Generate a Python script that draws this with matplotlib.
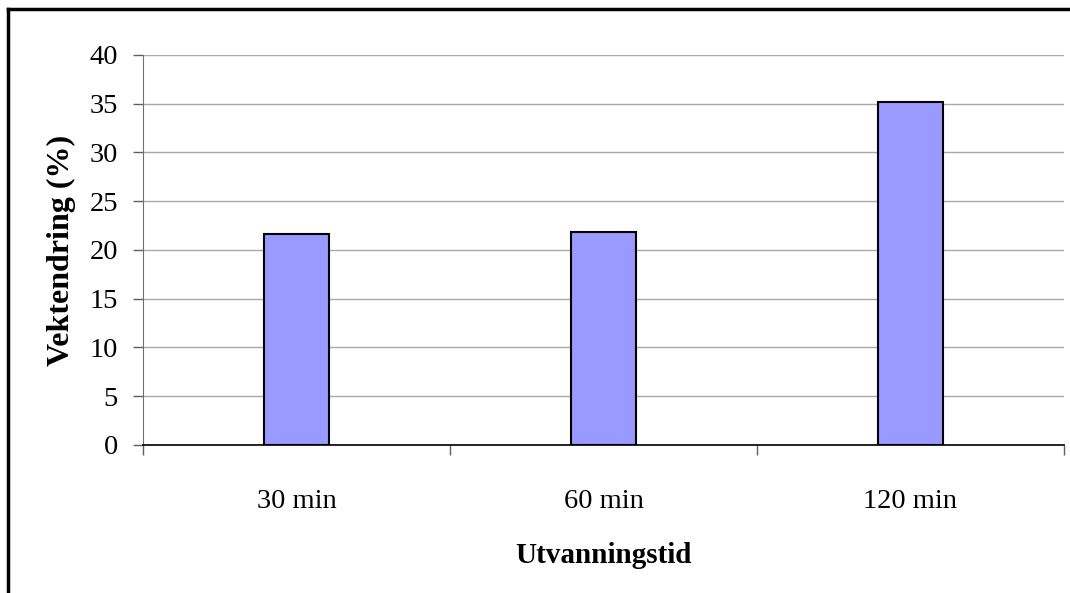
import matplotlib
matplotlib.use("Agg")
import matplotlib.pyplot as plt
from matplotlib.lines import Line2D

categories = ["30 min", "60 min", "120 min"]
values = [21.6, 21.8, 35.2]
y_ticks = [0, 5, 10, 15, 20, 25, 30, 35, 40]

plt.rcParams["font.family"] = ["Liberation Serif", "DejaVu Serif"]

fig = plt.figure(figsize=(10.7, 5.93), dpi=100)
ax = fig.add_axes([0.1336, 0.2496, 0.8608, 0.6577])

x = list(range(len(categories)))
ax.bar(x, values, width=0.21, color="#9999FF", edgecolor="black", linewidth=1.5, zorder=3)

ax.set_xlim(-0.5, len(categories) - 0.5)
ax.set_ylim(0, 40)
ax.set_yticks(y_ticks)
ax.yaxis.grid(True, color="#A8A8A8", linewidth=1.0, zorder=0)
ax.tick_params(axis="y", direction="out", length=7, width=1, color="#606060",
               labelsize=20.5, pad=11)

ax.set_xticks(x)
ax.set_xticklabels(categories)
ax.set_xticks([i - 0.5 for i in range(len(categories) + 1)], minor=True)
ax.tick_params(axis="x", which="major", length=0, labelsize=20.5, pad=32)
ax.tick_params(axis="x", which="minor", direction="out", length=7, width=1, color="#606060")

for s in ("top", "right"):
    ax.spines[s].set_visible(False)
ax.spines["left"].set_color("#707070")
ax.spines["bottom"].set_color("black")
ax.spines["bottom"].set_linewidth(1.2)

ax.set_ylabel("Vektendring (%)", fontsize=23, fontweight="bold", labelpad=10)
ax.set_xlabel("Utvanningstid", fontsize=21, fontweight="bold", labelpad=20)

# frame around the chart area (cropped at right and bottom)
fig.add_artist(Line2D([0.0075, 0.0075], [0.0, 0.985], transform=fig.transFigure,
                      color="black", linewidth=2.5))
fig.add_artist(Line2D([0.0075, 1.0], [0.985, 0.985], transform=fig.transFigure,
                      color="black", linewidth=2.5))

fig.savefig("out.png", dpi=100)
